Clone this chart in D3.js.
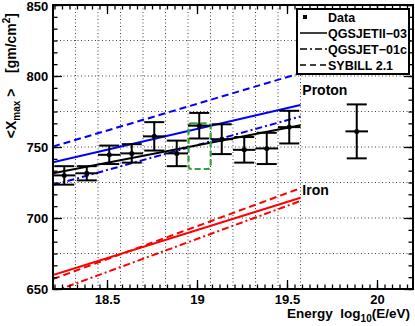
<!DOCTYPE html>
<html>
<head>
<meta charset="utf-8">
<script src="https://cdn.jsdelivr.net/npm/d3@7"></script>
<style>
  body { margin: 0; background: #fff; }
  text { font-family: "Liberation Sans", Arial, sans-serif; font-weight: bold; white-space: pre; }
</style>
</head>
<body>
<div id="chart"></div>
<script>
// Data points (bin centre, <Xmax>, error)
const energy = [18.2625, 18.3875, 18.5125, 18.6375, 18.7625, 18.8875, 19.0125, 19.1375, 19.2625, 19.3875, 19.5125, 19.8875];
const xmax = [730, 731.5, 744.5, 745.5, 757.5, 745.5, 765, 755.5, 748, 749, 764, 761];
const xmaxErr = [6.5, 5, 6.5, 6.5, 10, 9, 9, 10.5, 9, 11, 11.5, 19];
const binHalf = 0.0625;

// Model predictions, given at line start / end energy
const lineEnergy = [18.2, 19.575];
const protonQGSII = [739.3, 779.6];
const protonQGS01 = [723.2, 771.5];
const protonSibyll = [750.3, 802];
const ironQGSII = [659.8, 714.3];
const ironQGS01 = [648, 712];
const ironSibyll = [657, 721];
const dataFit = [731.5, 765.3];

// green box
const boxE = [18.953, 19.076];
const boxX = [734.5, 766.7];

const xGrid = [18.325, 18.45, 18.575, 18.7, 18.825, 18.95, 19.075, 19.2, 19.325, 19.45, 19.575];
const yGrid = [675, 700, 725, 775, 750, 800, 825];
const xMajor = [18.5, 19, 19.5, 20];
const yMajor = [650, 700, 750, 800, 850];

const legendItems = [
  { label: "Data", type: "marker" },
  { label: "QGSJETII\u221203", dash: null },
  { label: "QGSJET\u221201c", dash: "7,3,2,3" },
  { label: "SYBILL 2.1", dash: "6,4" }
];

const W = 415, H = 326;
const margin = { top: 5, right: 2, bottom: 37, left: 53 };
const width = W - margin.left - margin.right;
const height = H - margin.top - margin.bottom;

const svg = d3.select("#chart").append("svg")
  .attr("width", W).attr("height", H);

const g = svg.append("g").attr("transform", `translate(${margin.left},${margin.top})`);

const x = d3.scaleLinear().domain([18.2, 20.2]).range([0, width]);
const y = d3.scaleLinear().domain([650, 850]).range([height, 0]);

svg.append("defs").append("clipPath").attr("id", "clip")
  .append("rect").attr("width", width).attr("height", height);

// grid
const grid = g.append("g").attr("stroke", "#444").attr("stroke-width", 1).attr("stroke-dasharray", "1,2.5");
grid.selectAll(".gx").data(xGrid).join("line")
  .attr("x1", d => x(d)).attr("x2", d => x(d)).attr("y1", 0).attr("y2", height);
grid.selectAll(".gy").data(yGrid).join("line")
  .attr("y1", d => y(d)).attr("y2", d => y(d)).attr("x1", 0).attr("x2", width);

// model lines
const plot = g.append("g").attr("clip-path", "url(#clip)");
const models = [
  { v: protonQGSII, c: "#0000ff", dash: null },
  { v: protonQGS01, c: "#0000ff", dash: "7,3,2,3" },
  { v: protonSibyll, c: "#0000ff", dash: "7,4" },
  { v: ironQGSII, c: "#ff0000", dash: null },
  { v: ironQGS01, c: "#ff0000", dash: "7,3,2,3" },
  { v: ironSibyll, c: "#ff0000", dash: "7,4" },
  { v: dataFit, c: "#000", dash: null }
];
const line = d3.line().x(d => x(d[0])).y(d => y(d[1]));
plot.selectAll(".model").data(models).join("path")
  .attr("d", m => line(lineEnergy.map((e, i) => [e, m.v[i]])))
  .attr("fill", "none").attr("stroke", m => m.c).attr("stroke-width", 2)
  .attr("stroke-dasharray", m => m.dash);

// green dashed box
plot.append("rect")
  .attr("x", x(boxE[0])).attr("y", y(boxX[1]))
  .attr("width", x(boxE[1]) - x(boxE[0])).attr("height", y(boxX[0]) - y(boxX[1]))
  .attr("rx", 3)
  .attr("fill", "none").attr("stroke", "#3a9e3a").attr("stroke-width", 2.2)
  .attr("stroke-dasharray", "6,3");

// data with error bars
const pts = energy.map((e, i) => ({ e, v: xmax[i], err: xmaxErr[i] }));
const eb = plot.append("g").attr("stroke", "#000").attr("stroke-width", 2);
const capW = 10;
pts.forEach(p => {
  const cx = x(p.e), cy = y(p.v);
  const x0 = x(p.e - binHalf), x1 = x(p.e + binHalf);
  const yt = y(p.v + p.err), yb = y(p.v - p.err);
  eb.append("line").attr("x1", cx).attr("x2", cx).attr("y1", yt).attr("y2", yb);
  eb.append("line").attr("x1", x0).attr("x2", x1).attr("y1", cy).attr("y2", cy);
  eb.append("line").attr("x1", cx - capW).attr("x2", cx + capW).attr("y1", yt).attr("y2", yt);
  eb.append("line").attr("x1", cx - capW).attr("x2", cx + capW).attr("y1", yb).attr("y2", yb);
});
plot.selectAll(".pt").data(pts).join("circle")
  .attr("cx", d => x(d.e)).attr("cy", d => y(d.v)).attr("r", 2.5).attr("fill", "#000");

// axes with inward ticks
function minorTicks(start, step, lo, hi) {
  const out = [];
  for (let v = start; v <= hi + 1e-9; v += step) if (v >= lo - 1e-9) out.push(v);
  return out;
}
const xMinor = minorTicks(18.5 - 7 / 24, 1 / 24, 18.2, 20.2);
const yMinor = minorTicks(650, 50 / 6, 650, 850);

function drawAxis(axisFn, scale, vals, size, transform, labels) {
  const a = axisFn(scale).tickValues(vals).tickSizeInner(-size).tickSizeOuter(0).tickPadding(labels ? 6 : 0);
  if (!labels) a.tickFormat("");
  const ag = g.append("g").attr("transform", transform).call(a);
  ag.select(".domain").remove();
  ag.selectAll("line").attr("stroke", "#000").attr("stroke-width", 1.3);
  return ag;
}
const xb = drawAxis(d3.axisBottom, x, xMajor, 9, `translate(0,${height})`, true);
xb.selectAll("text").attr("font-size", 13).attr("fill", "#000");
xb.selectAll("text").text(d => d3.format("")(d));
drawAxis(d3.axisBottom, x, xMinor, 4.5, `translate(0,${height})`, false);
drawAxis(d3.axisTop, x, xMajor, 9, "translate(0,0)", false);
drawAxis(d3.axisTop, x, xMinor, 4.5, "translate(0,0)", false);
const yl = drawAxis(d3.axisLeft, y, yMajor, 9, "translate(0,0)", true);
yl.selectAll("text").attr("font-size", 13).attr("fill", "#000").attr("dx", "0.1em")
  .attr("dy", d => d === 850 ? "0.42em" : "0.32em");
drawAxis(d3.axisLeft, y, yMinor, 4.5, "translate(0,0)", false);
drawAxis(d3.axisRight, y, yMajor, 9, `translate(${width},0)`, false);
drawAxis(d3.axisRight, y, yMinor, 4.5, `translate(${width},0)`, false);

// frame
g.append("rect").attr("width", width).attr("height", height)
  .attr("fill", "none").attr("stroke", "#000").attr("stroke-width", 2);

// labels
g.append("text").attr("x", x(19.585)).attr("y", y(786.6)).attr("font-size", 14).text("Proton");
g.append("text").attr("x", x(19.585)).attr("y", y(716.2)).attr("font-size", 14).text("Iron");

// axis titles
const xt = svg.append("text").attr("x", 410).attr("y", 318).attr("font-size", 13.5)
  .attr("text-anchor", "end");
xt.append("tspan").text("Energy  log");
xt.append("tspan").attr("font-size", 10).attr("dy", 4).text("10");
xt.append("tspan").attr("dy", -4).text("(E/eV)");

const yt = svg.append("text").attr("transform", "translate(16,13) rotate(-90)")
  .attr("font-size", 14).attr("text-anchor", "end");
yt.append("tspan").text("<X");
yt.append("tspan").attr("font-size", 10).attr("dy", 4).text("max");
yt.append("tspan").attr("dy", -4).text(" >    [gm/cm");
yt.append("tspan").attr("font-size", 10).attr("dy", -6).text("2");
yt.append("tspan").attr("dy", 6).text("]");

// legend
const lg = svg.append("g");
lg.append("rect").attr("x", 297).attr("y", 9).attr("width", 112).attr("height", 65)
  .attr("fill", "#fff").attr("stroke", "#000").attr("stroke-width", 2);
const rows = lg.selectAll(".row").data(legendItems).join("g")
  .attr("transform", (d, i) => `translate(0,${17 + i * 16})`);
rows.filter(d => d.type === "marker").append("rect")
  .attr("x", 303).attr("y", -2).attr("width", 4).attr("height", 4).attr("fill", "#000");
rows.filter(d => d.type !== "marker").append("line")
  .attr("x1", 300).attr("x2", 327).attr("y1", 0).attr("y2", 0)
  .attr("stroke", "#000").attr("stroke-width", 1.5)
  .attr("stroke-dasharray", d => d.dash);
rows.append("text").attr("x", 328).attr("y", 5).attr("font-size", 12.5).text(d => d.label);
</script>
</body>
</html>
